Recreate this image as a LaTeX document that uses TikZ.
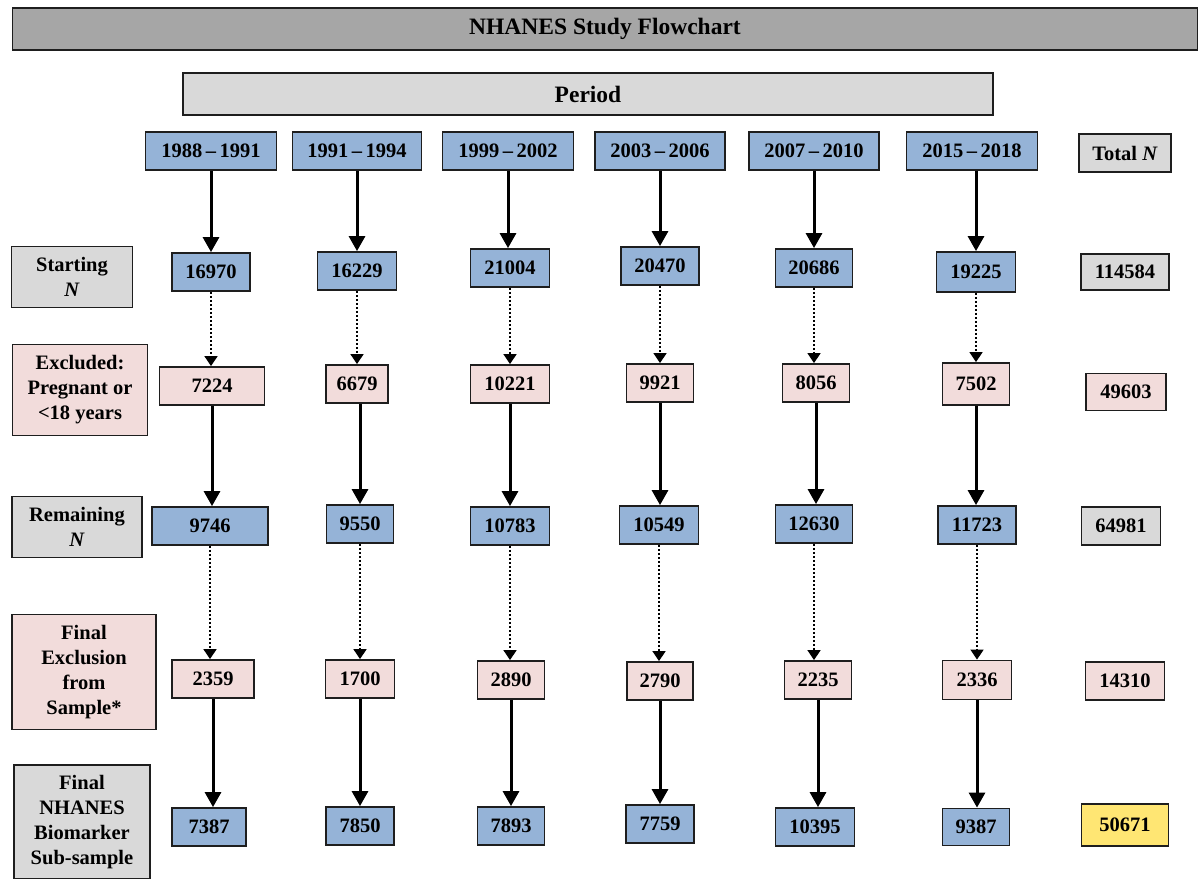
\documentclass[tikz,border=0pt]{standalone}
\usepackage{fontspec}
\setmainfont{Liberation Serif}
\newfontfamily\boxfont{Liberation Serif}
\usetikzlibrary{arrows.meta}

\definecolor{titlegray}{RGB}{166,166,166}
\definecolor{lightgray}{RGB}{217,217,217}
\definecolor{boxblue}{RGB}{149,179,215}
\definecolor{boxpink}{RGB}{242,220,219}
\definecolor{boxyellow}{RGB}{255,230,115}
\definecolor{edge}{RGB}{30,30,30}

\tikzset{
  box/.style={draw=edge, line width=1.8pt, inner sep=0pt, minimum height=38pt,
    align=center, font=\boxfont\fontsize{20.5}{25}\selectfont\bfseries},
  yearbox/.style={box, fill=boxblue, minimum width=130pt},
  bluebox/.style={box, fill=boxblue, minimum width=78pt},
  pinkbox/.style={box, fill=boxpink, minimum width=67pt},
  graybox/.style={box, fill=lightgray},
  headbox/.style={box, font=\boxfont\fontsize{23.5}{28}\selectfont\bfseries, minimum height=42pt},
  solidarrow/.style={line width=3pt, -{Triangle[width=16pt,length=15pt]}},
  dasharrow/.style={line width=1.5pt, dash pattern=on 2.5pt off 1.5pt,
    -{Triangle[width=13pt,length=10pt]}}
}

\begin{document}
\begin{tikzpicture}[x=1pt, y=-1pt]
\useasboundingbox (0,0) rectangle (1204,878);

% header
\node (title) at (605,29) [headbox, fill=titlegray, minimum width=1185pt] {NHANES Study Flowchart};
\node (period) at (588,94) [headbox, fill=lightgray, minimum width=810pt] {Period};

% periods
\node (y1) at (211,151) [yearbox, minimum width=131pt] {1988\,–\,1991};
\node (y2) at (357,151) [yearbox, minimum width=129pt] {1991\,–\,1994};
\node (y3) at (508,151) [yearbox, minimum width=131pt] {1999\,–\,2002};
\node (y4) at (660,151) [yearbox] {2003\,–\,2006};
\node (y5) at (814,151) [yearbox] {2007\,–\,2010};
\node (y6) at (972,151) [yearbox, minimum width=131pt] {2015\,–\,2018};
\node (ytot) at (1125,153) [graybox, minimum width=92pt] {Total \textit{N}};

% starting N
\node (lstart) at (72,277) [graybox, minimum width=121pt, minimum height=61pt] {Starting\\\textit{N}};
\node (s1) at (211,272) [bluebox] {16970};
\node (s2) at (357,271) [bluebox, minimum width=79pt] {16229};
\node (s3) at (510,268) [bluebox, minimum width=79pt] {21004};
\node (s4) at (660,266) [bluebox] {20470};
\node (s5) at (814,268) [bluebox, minimum width=77pt] {20686};
\node (s6) at (976,272) [bluebox, minimum width=79pt, minimum height=40pt] {19225};
\node (stot) at (1125,272) [graybox, minimum width=88pt, minimum height=36pt] {114584};

% excluded
\node (lexcl) at (80,390) [box, fill=boxpink, minimum width=135pt, minimum height=91pt] {Excluded:\\Pregnant or\\<18 years};
\node (e1) at (212,386) [pinkbox, minimum width=105pt] {7224};
\node (e2) at (357,384) [pinkbox, minimum width=62pt] {6679};
\node (e3) at (510,384) [pinkbox, minimum width=79pt] {10221};
\node (e4) at (660,383) [pinkbox] {9921};
\node (e5) at (816,383) [pinkbox] {8056};
\node (e6) at (976,384) [pinkbox, minimum height=42pt] {7502};
\node (etot) at (1126,392) [pinkbox, minimum width=80pt, minimum height=37pt] {49603};

% remaining N
\node (lrem) at (77,527) [graybox, minimum width=130pt, minimum height=61pt] {Remaining\\\textit{N}};
\node (r1) at (210,526) [bluebox, minimum width=116pt] {9746};
\node (r2) at (360,524) [bluebox, minimum width=67pt] {9550};
\node (r3) at (510,526) [bluebox, minimum width=79pt] {10783};
\node (r4) at (659,525) [bluebox, minimum width=79pt] {10549};
\node (r5) at (814,524) [bluebox, minimum width=77pt] {12630};
\node (r6) at (977,525) [bluebox] {11723};
\node (rtot) at (1121,526) [graybox, minimum width=79pt] {64981};

% final exclusion
\node (lfinex) at (84,672) [box, fill=boxpink, minimum width=144pt, minimum height=115pt] {Final\\Exclusion\\from\\Sample*};
\node (f1) at (213,679) [pinkbox, minimum width=82pt] {2359};
\node (f2) at (360,679) [pinkbox, minimum width=69pt] {1700};
\node (f3) at (511,680) [pinkbox] {2890};
\node (f4) at (660,681) [pinkbox, minimum width=66pt] {2790};
\node (f5) at (818,680) [pinkbox] {2235};
\node (f6) at (977,680) [pinkbox, minimum width=69pt, minimum height=39pt] {2336};
\node (ftot) at (1125,681) [pinkbox, minimum width=79pt] {14310};

% final sub-sample
\node (lfinal) at (82,822) [graybox, minimum width=136pt, minimum height=114pt] {Final\\NHANES\\Biomarker\\Sub-sample};
\node (n1) at (209,827) [bluebox, minimum width=74pt] {7387};
\node (n2) at (360,826) [bluebox, minimum width=68pt] {7850};
\node (n3) at (511,826) [bluebox, minimum width=67pt] {7893};
\node (n4) at (660,824) [bluebox, minimum width=68pt] {7759};
\node (n5) at (815,827) [bluebox, minimum width=79pt] {10395};
\node (n6) at (976,827) [bluebox, minimum width=67pt, minimum height=37pt] {9387};
\node (ntot) at (1125,825) [box, fill=boxyellow, minimum width=87pt, minimum height=42pt] {50671};

% arrows
\draw[solidarrow] (y1.south) -- (y1.south |- s1.north);
\draw[solidarrow] (y2.south) -- (y2.south |- s2.north);
\draw[solidarrow] (y3.south) -- (y3.south |- s3.north);
\draw[solidarrow] (y4.south) -- (y4.south |- s4.north);
\draw[solidarrow] (y5.south) -- (y5.south |- s5.north);
\draw[solidarrow] (y6.south -| s6) -- (s6.north);

\draw[dasharrow] (s1.south) -- (s1.south |- e1.north);
\draw[dasharrow] (s2.south) -- (s2.south |- e2.north);
\draw[dasharrow] (s3.south) -- (s3.south |- e3.north);
\draw[dasharrow] (s4.south) -- (s4.south |- e4.north);
\draw[dasharrow] (s5.south) -- (s5.south |- e5.north);
\draw[dasharrow] (s6.south) -- (s6.south |- e6.north);

\draw[solidarrow] (e1.south) -- (e1.south |- r1.north);
\draw[solidarrow] (r2.north |- e2.south) -- (r2.north);
\draw[solidarrow] (e3.south) -- (e3.south |- r3.north);
\draw[solidarrow] (e4.south) -- (e4.south |- r4.north);
\draw[solidarrow] (e5.south) -- (e5.south |- r5.north);
\draw[solidarrow] (e6.south) -- (e6.south |- r6.north);

\draw[dasharrow] (r1.south) -- (r1.south |- f1.north);
\draw[dasharrow] (r2.south) -- (r2.south |- f2.north);
\draw[dasharrow] (r3.south) -- (r3.south |- f3.north);
\draw[dasharrow] (r4.south) -- (r4.south |- f4.north);
\draw[dasharrow] (r5.south) -- (r5.south |- f5.north);
\draw[dasharrow] (r6.south) -- (r6.south |- f6.north);

\draw[solidarrow] (f1.south) -- (f1.south |- n1.north);
\draw[solidarrow] (f2.south) -- (f2.south |- n2.north);
\draw[solidarrow] (f3.south) -- (f3.south |- n3.north);
\draw[solidarrow] (f4.south) -- (f4.south |- n4.north);
\draw[solidarrow] (f5.south) -- (f5.south |- n5.north);
\draw[solidarrow] (f6.south) -- (f6.south |- n6.north);
\end{tikzpicture}
\end{document}
